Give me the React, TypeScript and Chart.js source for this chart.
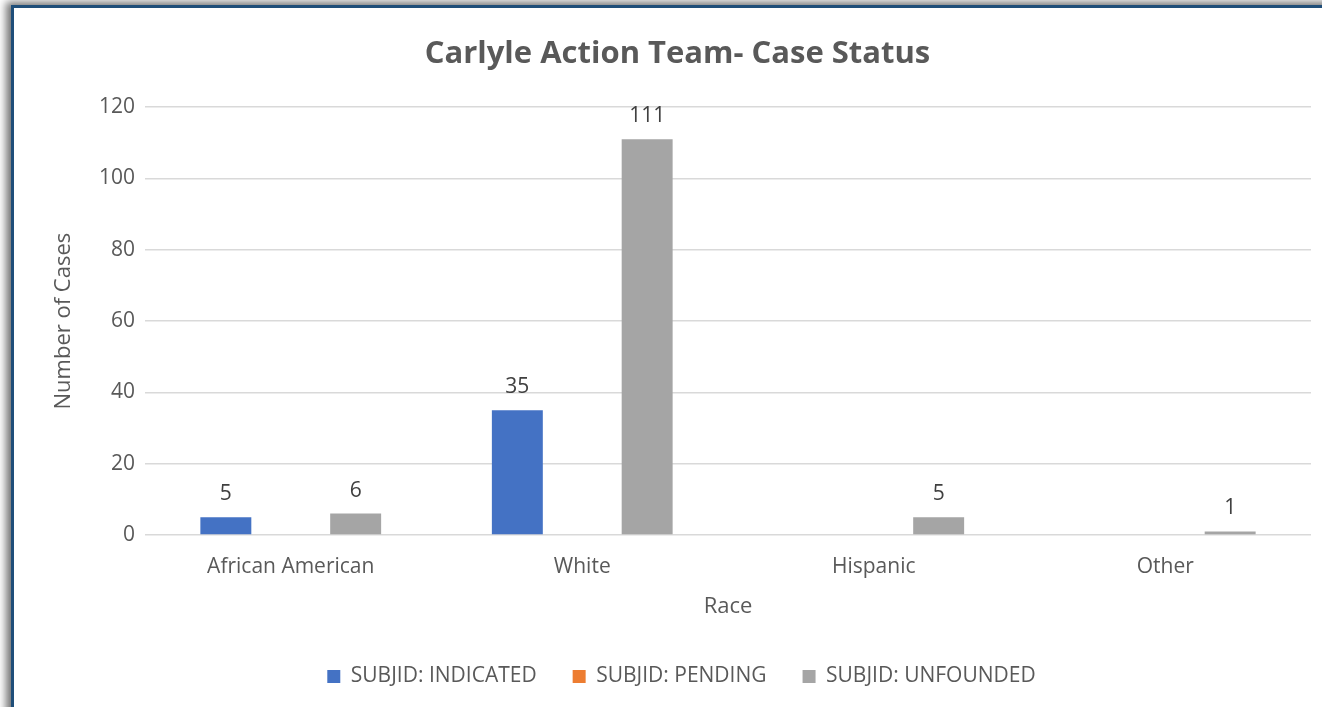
import React, { useEffect, useRef } from "react";
import { Chart, registerables } from "chart.js";

Chart.register(...registerables);

const categories = ["African American", "White", "Hispanic", "Other"];
const indicated = [5, 35, 0, 0];
const pending = [0, 0, 0, 0];
const unfounded = [6, 111, 5, 1];
const seriesNames = ["SUBJID: INDICATED", "SUBJID: PENDING", "SUBJID: UNFOUNDED"];
const yTicks = [0, 20, 40, 60, 80, 100, 120];

const FONT = "'Open Sans', 'Noto Sans', sans-serif";
const TEXT = "#595959";

const labelPlugin = {
  id: "valueLabels",
  afterLayout(chart: any) {
    if (chart.legend) {
      chart.legend.left += 19;
      chart.legend.right += 19;
    }
    if (chart.titleBlock) {
      chart.titleBlock.left += 15;
      chart.titleBlock.right += 15;
    }
  },
  afterDatasetsDraw(chart: any) {
    const ctx = chart.ctx;
    ctx.save();
    ctx.font = `21px ${FONT}`;
    ctx.fillStyle = "#404040";
    ctx.textAlign = "center";
    ctx.textBaseline = "alphabetic";
    chart.data.datasets.forEach((ds: any, i: number) => {
      const meta = chart.getDatasetMeta(i);
      meta.data.forEach((el: any, j: number) => {
        const v = ds.data[j];
        if (v > 0) ctx.fillText(String(v), el.x, el.y - 17);
      });
    });
    ctx.restore();
  },
};

export default function App() {
  const ref = useRef<HTMLCanvasElement>(null);
  useEffect(() => {
    if (!ref.current) return;
    const chart = new Chart(ref.current, {
      type: "bar",
      data: {
        labels: categories,
        datasets: [
          { label: seriesNames[0], data: indicated, backgroundColor: "#4472c4" },
          { label: seriesNames[1], data: pending, backgroundColor: "#ed7d31" },
          { label: seriesNames[2], data: unfounded, backgroundColor: "#a5a5a5" },
        ],
      },
      options: {
        animation: false,
        responsive: false,
        maintainAspectRatio: false,
        layout: { padding: { left: 0, right: 11, top: 0, bottom: 10 } },
        datasets: { bar: { categoryPercentage: 0.668, barPercentage: 0.785 } },
        plugins: {
          title: {
            display: true,
            text: "Carlyle Action Team- Case Status",
            color: TEXT,
            font: { family: FONT, size: 31, weight: "bold" },
            padding: { top: 28, bottom: 34 },
          },
          legend: {
            position: "bottom",
            labels: {
              color: TEXT,
              font: { family: FONT, size: 21 },
              boxWidth: 13,
              boxHeight: 13,
              padding: 36,
            },
          },
          tooltip: { enabled: false },
        },
        scales: {
          x: {
            grid: { display: false, drawTicks: false },
            border: { display: false },
            ticks: { color: TEXT, font: { family: FONT, size: 21 }, padding: 19 },
            title: {
              display: true,
              text: "Race",
              color: TEXT,
              font: { family: FONT, size: 22 },
              padding: { top: -4.6, bottom: 10 },
            },
          },
          y: {
            min: 0,
            max: 120,
            afterBuildTicks: (s: any) => {
              s.ticks = yTicks.map((v) => ({ value: v }));
            },
            afterFit: (s: any) => {
              s.width = 131;
            },
            grid: { color: "#d9d9d9", lineWidth: 1.5, drawTicks: false },
            border: { display: false },
            ticks: { color: TEXT, font: { family: FONT, size: 21 }, padding: 10 },
            title: {
              display: true,
              text: "Number of Cases",
              color: TEXT,
              font: { family: FONT, size: 22 },
              padding: { top: 37, bottom: 0 },
            },
          },
        },
      },
      plugins: [labelPlugin],
    });
    return () => chart.destroy();
  }, []);

  return (
    <div style={{ position: "fixed", left: 0, top: 0, width: 1322, height: 707, overflow: "hidden", background: "#fff" }}>
      <div
        style={{
          position: "absolute",
          left: 11,
          top: 5,
          width: 1330,
          height: 720,
          borderLeft: "3px solid #1f4e79",
          borderTop: "3px solid #1f4e79",
          boxShadow: "-5px -3px 8px rgba(0,0,0,0.55)",
          background: "#fff",
        }}
      >
        <canvas ref={ref} width={1308} height={699} style={{ display: "block" }} />
      </div>
    </div>
  );
}
